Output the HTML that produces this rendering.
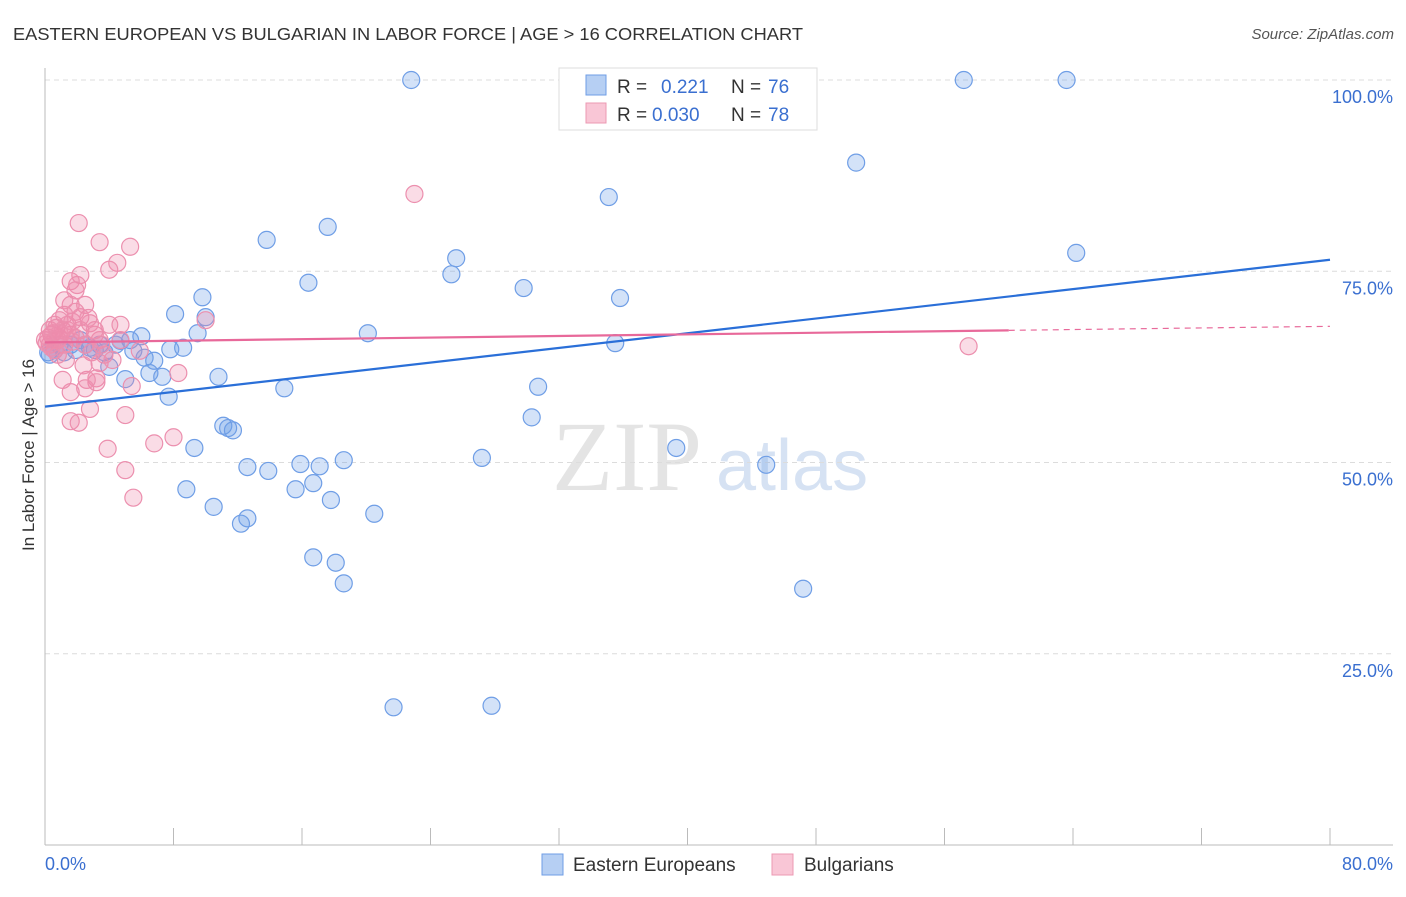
<!DOCTYPE html>
<html><head><meta charset="utf-8"><style>
body{margin:0;background:#fff;font-family:"Liberation Sans",sans-serif;}
</style></head><body>
<svg id="chart" width="1406" height="892" xmlns="http://www.w3.org/2000/svg" font-family="Liberation Sans, sans-serif">
<text x="13" y="40" font-size="17.5" fill="#333" textLength="790" lengthAdjust="spacingAndGlyphs">EASTERN EUROPEAN VS BULGARIAN IN LABOR FORCE | AGE &gt; 16 CORRELATION CHART</text>
<text x="1394" y="39" font-size="15" fill="#555" text-anchor="end" font-style="italic">Source: ZipAtlas.com</text>
<g>
<text x="552" y="490" font-size="100" font-family="Liberation Serif, serif" fill="#e4e4e4">ZIP</text>
<text x="716" y="490" font-size="72" fill="#d6e2f3">atlas</text>
</g>
<g id="grid"></g>
<g id="axes"></g>
<g id="pts"></g>
<g id="trends"></g>
<text transform="translate(34,455) rotate(-90)" font-size="17" fill="#333" text-anchor="middle">In Labor Force | Age &gt; 16</text>
<g>
<rect x="559" y="68" width="258" height="62" fill="#fff" stroke="#ddd"/>
<rect x="586" y="75" width="20" height="20" fill="#b6cff3" stroke="#6f9ee6"/>
<rect x="586" y="103" width="20" height="20" fill="#f9c6d6" stroke="#ec99b3"/>
<text x="617" y="93" font-size="19" fill="#333">R = </text><text x="661" y="93" font-size="19" fill="#3a6fd0">0.221</text>
<text x="731" y="93" font-size="19" fill="#333">N = </text><text x="768" y="93" font-size="19" fill="#3a6fd0">76</text>
<text x="617" y="121" font-size="19" fill="#333">R = </text><text x="652" y="121" font-size="19" fill="#3a6fd0">0.030</text>
<text x="731" y="121" font-size="19" fill="#333">N = </text><text x="768" y="121" font-size="19" fill="#3a6fd0">78</text>
</g>
<g>
<rect x="542" y="854" width="21" height="21" fill="#b6cff3" stroke="#6f9ee6"/>
<text x="573" y="871" font-size="19" fill="#333">Eastern Europeans</text>
<rect x="772" y="854" width="21" height="21" fill="#f9c6d6" stroke="#ec99b3"/>
<text x="804" y="871" font-size="19" fill="#333">Bulgarians</text>
</g>
</svg>
<script>
const yTicks=[100,75,50,25];
const yTickLabels=["100.0%","75.0%","50.0%","25.0%"];
const xTicks=[0,8,16,24,32,40,48,56,64,72,80];
const xEndLabels=["0.0%","80.0%"];
const blueX=[22.8,57.2,63.6,50.5,35.1,13.8,17.6,64.2,25.6,25.3,16.4,29.8,35.8,9.8,8.1,10.0,9.5,20.1,6.0,5.3,35.5,8.6,7.8,3.7,5.5,4.7,3.4,2.5,1.6,0.6,6.2,6.8,6.5,4.0,7.3,5.0,10.8,14.9,30.7,7.7,30.3,11.1,11.7,11.4,9.3,39.3,27.2,18.6,12.6,13.9,15.9,17.1,44.9,8.8,15.6,16.7,17.8,10.5,20.5,12.6,12.2,16.7,18.1,18.6,47.2,21.7,27.8,0.3,1.9,2.8,0.9,2.2,3.1,1.2,4.4,0.2];
const blueY=[100,100,100,89.2,84.7,79.1,80.8,77.4,76.7,74.6,73.5,72.8,71.5,71.6,69.4,69.0,66.9,66.9,66.5,66.0,65.6,65.0,64.8,64.4,64.6,65.9,65.4,65.4,65.4,64.7,63.7,63.3,61.7,62.5,61.2,60.9,61.2,59.7,59.9,58.6,55.9,54.8,54.2,54.5,51.9,51.9,50.6,50.3,49.4,48.9,49.8,49.5,49.7,46.5,46.5,47.3,45.1,44.2,43.3,42.7,42.0,37.6,36.9,34.2,33.5,18.0,18.2,64.1,64.7,65.0,65.4,66.0,64.7,64.4,65.4,64.4];
const pinkX=[2.1,3.4,5.3,4.5,2.2,1.6,2.0,1.6,2.5,1.9,1.2,2.2,2.8,4.0,4.7,10.0,0.9,0.6,0.3,0.4,0.8,1.2,1.6,2.2,3.1,3.4,2.5,2.9,3.7,0.6,0.3,0.9,1.9,5.9,3.4,3.2,3.2,2.6,1.1,1.6,2.5,5.4,2.8,5.0,1.6,2.1,3.9,6.8,8.0,5.0,5.5,8.3,23.0,57.5,0,0.2,0.5,0.7,1.1,1.4,1.7,2.7,3.1,3.5,1.3,4.7,4.2,2.4,0.8,1.2,1.9,4.0,1.4,0.6,0.1,0.4,0.9,1.7];
const pinkY=[81.3,78.8,78.2,76.1,74.5,73.7,73.2,70.6,70.6,69.7,69.3,69.0,68.2,68.0,68.0,68.6,68.6,68.0,67.3,66.7,66.0,65.4,66.7,67.3,66.7,66.0,65.4,64.4,64.1,64.7,65.4,66.3,66.3,64.6,63.0,61.0,60.5,60.8,60.8,59.2,59.7,60.0,57.0,56.2,55.4,55.2,51.8,52.5,53.3,49.0,45.4,61.7,85.1,65.2,66.0,66.3,66.9,67.6,67.3,68.0,68.4,68.9,67.3,65.4,63.4,66.0,63.4,62.7,64.1,71.2,72.5,75.2,67.3,66.0,65.6,65.0,66.9,65.8];
const blueTrend=[57.3,76.5];
const pinkTrend=[65.7,67.8];
const pinkSolidEnd=60;

const NS="http://www.w3.org/2000/svg";
const X=v=>45+v/80*1285;
const Y=v=>845-v/100*765;
function mk(t,a,p){const e=document.createElementNS(NS,t);for(const k in a)e.setAttribute(k,a[k]);p.appendChild(e);return e;}
const grid=document.getElementById('grid'),axes=document.getElementById('axes'),pts=document.getElementById('pts'),tr=document.getElementById('trends');
yTicks.forEach((t,i)=>{
  const l=mk('line',{x1:45,x2:1393,y1:Y(t),y2:Y(t),stroke:'#dcdcdc','stroke-dasharray':'5,4'},grid);
  
  
  const tx=mk('text',{x:1393,y:Y(t)+23,'font-size':18,fill:'#3a6fd0','text-anchor':'end'},grid);
  tx.textContent=yTickLabels[i];
  
  
});
let a=mk('line',{x1:45,x2:45,y1:68,y2:845,stroke:'#bbb'},axes);


a=mk('line',{x1:45,x2:1393,y1:845,y2:845,stroke:'#bbb'},axes);


xTicks.forEach(t=>{
  const l=mk('line',{x1:X(t),x2:X(t),y1:828,y2:845,stroke:'#bbb'},axes);
  
  
});
let t0=mk('text',{x:45,y:870,'font-size':18,fill:'#3a6fd0'},axes);t0.textContent=xEndLabels[0];


t0=mk('text',{x:1393,y:870,'font-size':18,fill:'#3a6fd0','text-anchor':'end'},axes);t0.textContent=xEndLabels[1];


blueX.forEach((v,i)=>{
  const c=mk('circle',{cx:X(v),cy:Y(blueY[i]),r:8.5,fill:'rgba(110,158,232,0.3)',stroke:'#6f9ee6','stroke-width':1.2},pts);
  
  
});
pinkX.forEach((v,i)=>{
  const c=mk('circle',{cx:X(v),cy:Y(pinkY[i]),r:8.5,fill:'rgba(240,140,172,0.3)',stroke:'#ec8fae','stroke-width':1.2},pts);
  
  
});
let l=mk('line',{x1:X(0),y1:Y(blueTrend[0]),x2:X(80),y2:Y(blueTrend[1]),stroke:'#2a6fd8','stroke-width':2.2},tr);


const py=x=>pinkTrend[0]+(pinkTrend[1]-pinkTrend[0])*x/80;
l=mk('line',{x1:X(0),y1:Y(py(0)),x2:X(pinkSolidEnd),y2:Y(py(pinkSolidEnd)),stroke:'#e8699a','stroke-width':2.2},tr);


l=mk('line',{x1:X(pinkSolidEnd),y1:Y(py(pinkSolidEnd)),x2:X(80),y2:Y(py(80)),stroke:'#e8699a','stroke-width':1.2,'stroke-dasharray':'6,5'},tr);


</script>
</body></html>
